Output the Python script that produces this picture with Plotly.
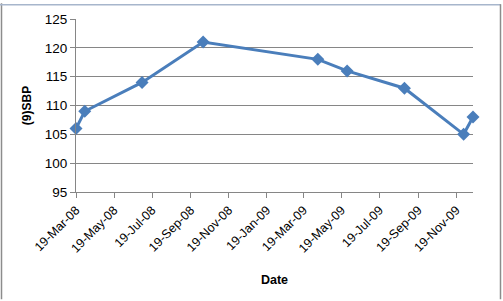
import plotly.graph_objects as go

dates = ["2008-03-19", "2008-04-02", "2008-07-03", "2008-10-09", "2009-04-11",
         "2009-05-28", "2009-08-28", "2009-12-01", "2009-12-16"]
sbp = [106, 109, 114, 121, 118, 116, 113, 105, 108]

tick_vals = ["2008-03-19", "2008-05-19", "2008-07-19", "2008-09-19", "2008-11-19",
             "2009-01-19", "2009-03-19", "2009-05-19", "2009-07-19", "2009-09-19",
             "2009-11-19"]
tick_text = ["19-Mar-08", "19-May-08", "19-Jul-08", "19-Sep-08", "19-Nov-08",
             "19-Jan-09", "19-Mar-09", "19-May-09", "19-Jul-09", "19-Sep-09",
             "19-Nov-09"]

W, H = 503, 301
L, R, T, B = 76, 30, 16, 109
pw, ph = W - L - R, H - T - B

def px(x):
    return (x - L) / pw

def py(y):
    return (H - B - y) / ph

fig = go.Figure()
fig.add_trace(go.Scatter(
    x=dates, y=sbp, mode="lines+markers",
    line=dict(color="#4a7ebb", width=3),
    marker=dict(symbol="diamond", size=10, color="#4a7ebb"),
    cliponaxis=False, showlegend=False,
))

font = "Liberation Sans, Arial, sans-serif"
fig.update_layout(
    width=W, height=H,
    margin=dict(l=L, r=R, t=T, b=B),
    paper_bgcolor="white", plot_bgcolor="white",
    font=dict(family=font, size=12, color="black"),
    xaxis=dict(
        type="date", range=["2008-03-19", "2009-12-16"],
        tickmode="array", tickvals=tick_vals, ticktext=tick_text,
        tickangle=-45, ticks="outside", ticklen=5, tickcolor="#868686",
        showline=True, linecolor="#868686", linewidth=1,
        showgrid=False, zeroline=False,
        tickfont=dict(size=12.5),
        title=dict(text="<b>Date</b>", font=dict(size=12.5), standoff=20),
    ),
    yaxis=dict(
        range=[95, 125], dtick=5, tick0=95,
        ticks="outside", ticklen=5, tickcolor="#868686",
        showline=True, linecolor="#868686", linewidth=1,
        showgrid=True, gridcolor="#868686", gridwidth=1,
        zeroline=False, tickfont=dict(size=13.5),
        title=dict(text="<b>(9)SBP</b>", font=dict(size=12), standoff=10),
    ),
    shapes=[
        dict(type="line", xref="paper", yref="paper",
             x0=px(1.5), x1=px(1.5), y0=py(301), y1=py(0),
             line=dict(color="#8c8c8c", width=1.5)),
        dict(type="line", xref="paper", yref="paper",
             x0=px(0), x1=px(501), y0=py(1.5), y1=py(1.5),
             line=dict(color="#a7b6cc", width=1.5)),
        dict(type="line", xref="paper", yref="paper",
             x0=px(500.5), x1=px(500.5), y0=py(301), y1=py(1),
             line=dict(color="#8c8c8c", width=1.5)),
    ],
)

fig.write_html("out.html")
